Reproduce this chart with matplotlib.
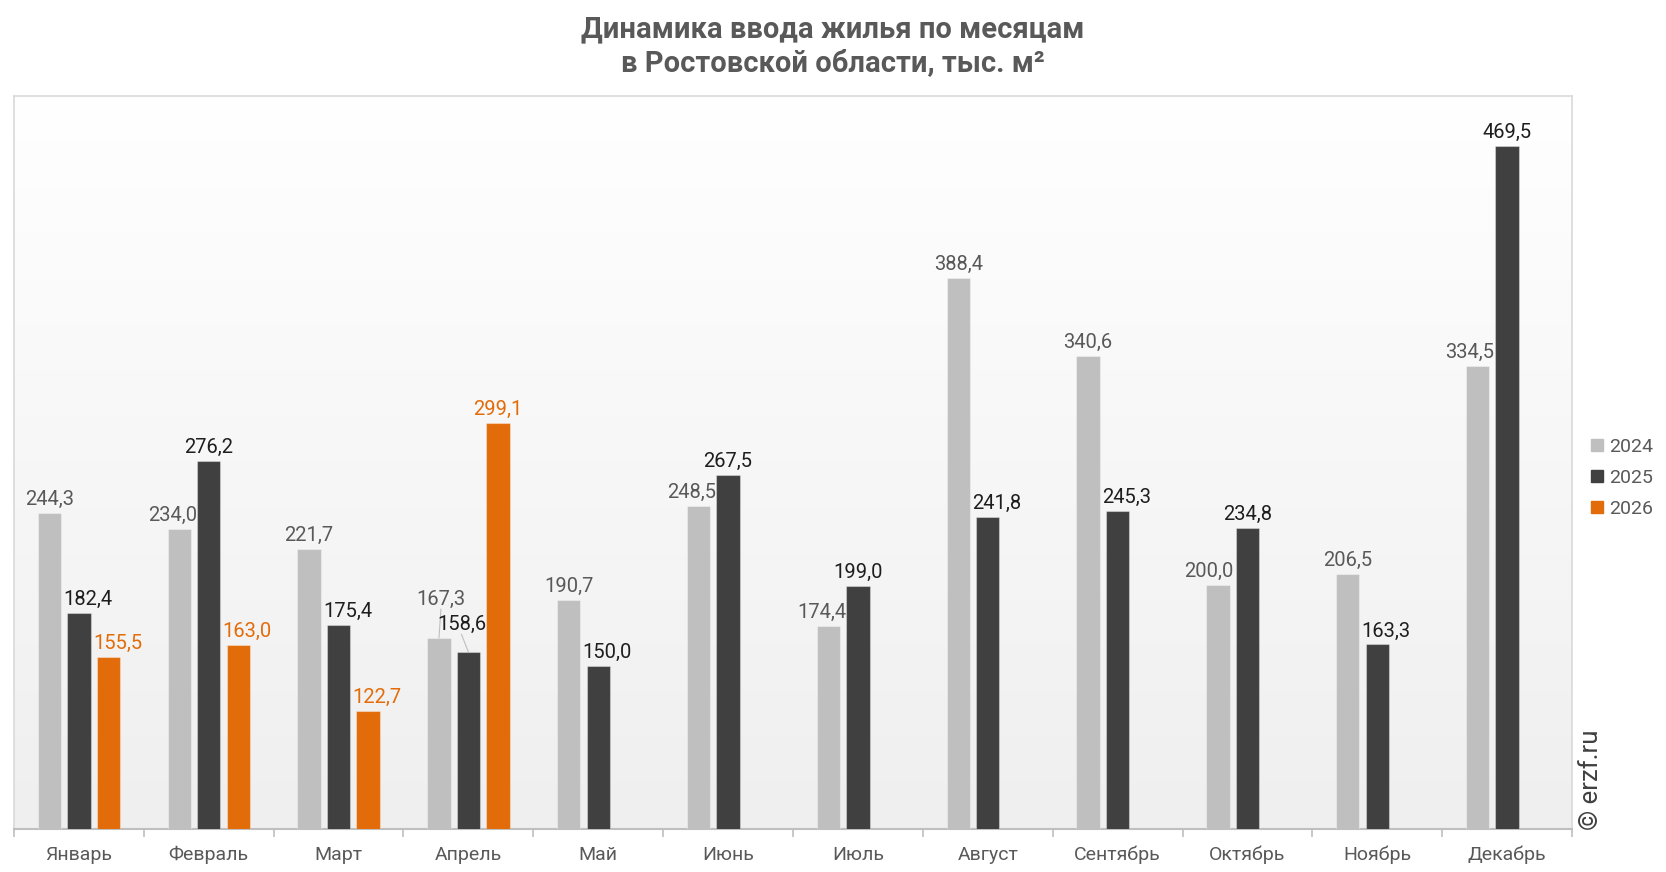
import matplotlib
matplotlib.use("Agg")
import matplotlib.pyplot as plt
import numpy as np
from matplotlib.lines import Line2D
from matplotlib.colors import LinearSegmentedColormap

plt.rcParams['font.family'] = ['Roboto', 'DejaVu Sans']

months = ["Январь", "Февраль", "Март", "Апрель", "Май", "Июнь", "Июль",
          "Август", "Сентябрь", "Октябрь", "Ноябрь", "Декабрь"]
series_names = ["2024", "2025", "2026"]
v2024 = [244.3, 234.0, 221.7, 167.3, 190.7, 248.5, 174.4, 388.4, 340.6, 200.0, 206.5, 334.5]
v2025 = [182.4, 276.2, 175.4, 158.6, 150.0, 267.5, 199.0, 241.8, 245.3, 234.8, 163.3, 469.5]
v2026 = [155.5, 163.0, 122.7, 299.1]

colors = ["#BFBFBF", "#404040", "#E36C0A"]
label_colors = ["#595959", "#1E1E1E", "#E36C0A"]

fig = plt.figure(figsize=(16.66, 8.72), dpi=100)
ax = fig.add_axes([14/1666, 1-829/872, (1572-14)/1666, (829-96)/872])

# gradient background (white at top, light grey at bottom)
grad = np.linspace(1, 0, 256).reshape(-1, 1)
cmap = LinearSegmentedColormap.from_list("bg", ["#FFFFFF", "#EFEFEF"])
ax.imshow(grad, aspect='auto', cmap=cmap, extent=[-0.5, 11.5, 50, 500],
          origin='lower', zorder=0)

x = np.arange(len(months))
w = 0.18
offs = [-0.227, 0.0, 0.227]
data = [v2024, v2025, v2026]

# label nudges in pixels: (series, month): (dx, dy, leader)
special = {
    (0, 1): (-7, 8, False), (0, 5): (-7, 8, False), (0, 6): (-7, 8, False),
    (0, 9): (-9, 8, False), (0, 11): (-8, 8, False),
    (0, 3): (2, 33, True),
    (1, 0): (9, 8, False), (1, 2): (9, 8, False), (1, 4): (9, 8, False),
    (1, 7): (9, 8, False), (1, 8): (9, 8, False), (1, 10): (9, 8, False),
    (1, 3): (-7, 22, True),
    (2, 0): (9, 8, False), (2, 1): (9, 8, False), (2, 2): (9, 8, False),
}

for si, vals in enumerate(data):
    xs = x[:len(vals)] + offs[si]
    ax.bar(xs, vals, width=w, color=colors[si], edgecolor=(1, 1, 1, 0.35),
           linewidth=0.8, zorder=3)
    for mi, (xi, v) in enumerate(zip(xs, vals)):
        dx, dy, leader = special.get((si, mi), (0, 8, False))
        txt = f"{v:.1f}".replace(".", ",")
        ax.annotate(txt, (xi, v), xytext=(dx * 0.72, dy * 0.72),
                    textcoords='offset points', ha='center', va='baseline',
                    fontsize=14.5, color=label_colors[si], zorder=5)
        if leader:
            ax.annotate("", (xi, v), xytext=(dx * 0.72, dy * 0.72 - 3),
                        textcoords='offset points',
                        arrowprops=dict(arrowstyle='-', color='#BFBFBF', lw=0.8,
                                        shrinkA=0, shrinkB=0), zorder=4)

ax.set_xlim(-0.5, 11.5)
ax.set_ylim(50, 500)
ax.set_yticks([])
ax.set_xticks(x)
ax.set_xticklabels(months, fontsize=14, color="#595959")
ax.tick_params(axis='x', which='major', length=0, pad=12)
ax.set_xticks(np.arange(-0.5, 12, 1), minor=True)
ax.tick_params(axis='x', which='minor', length=6, color="#BFBFBF", width=1.2)
for s in ['top', 'left', 'right']:
    ax.spines[s].set_color("#D9D9D9")
    ax.spines[s].set_linewidth(1.2)
ax.spines['bottom'].set_color("#BFBFBF")
ax.spines['bottom'].set_linewidth(1.5)

fig.text(0.5, 1-29/872, "Динамика ввода жилья по месяцам", ha='center', va='center',
         fontsize=21, fontweight='bold', color="#595959")
fig.text(0.5, 1-63/872, "в Ростовской области, тыс. м²", ha='center', va='center',
         fontsize=21, fontweight='bold', color="#595959")

handles = [Line2D([], [], marker='s', linestyle='none', markersize=8,
                  markerfacecolor=c, markeredgecolor=c) for c in colors]
fig.legend(handles, series_names, loc='center left',
           bbox_to_anchor=(1590/1666, 1-478/872), frameon=False, fontsize=14,
           labelcolor="#595959", handlelength=0.7, handletextpad=0.3,
           labelspacing=0.68, borderpad=0, borderaxespad=0)

fig.text(1591/1666, 1-830/872, "© erzf.ru", rotation=90, ha='center', va='bottom',
         fontsize=18.5, color="#404040")

fig.savefig("out.png", dpi=100, facecolor='white')
